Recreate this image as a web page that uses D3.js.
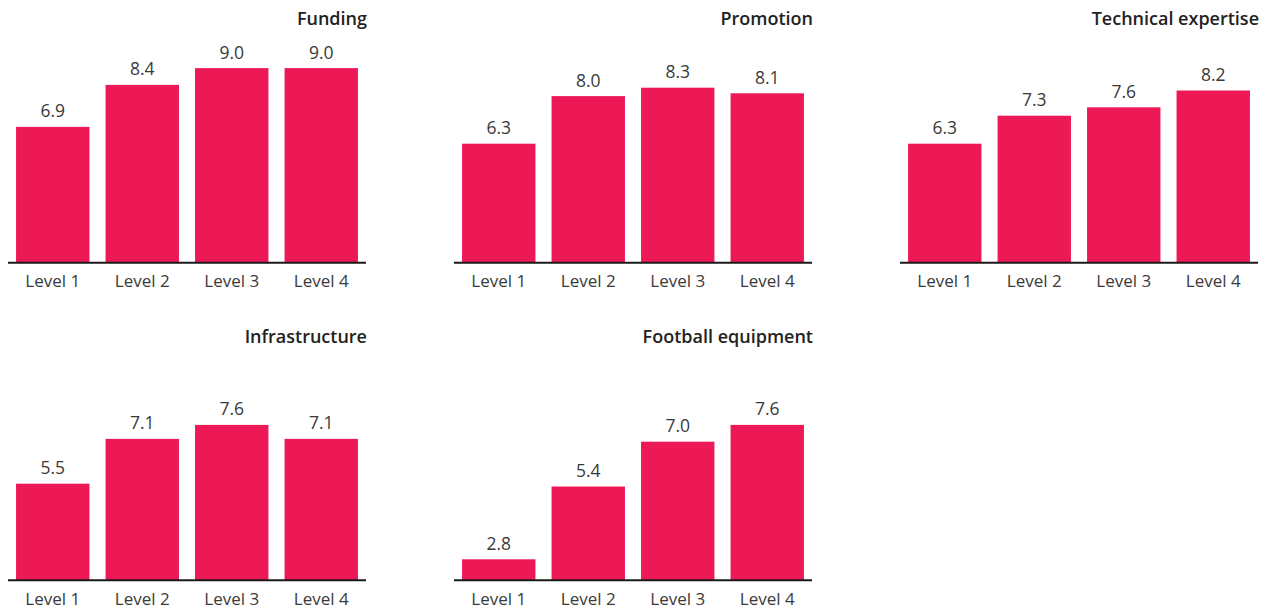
<!DOCTYPE html>
<html>
<head>
<meta charset="utf-8">
<script src="https://cdn.jsdelivr.net/npm/d3@7"></script>
<style>
  html, body { margin: 0; padding: 0; background: #fff; }
  svg { display: block; }
  text { font-family: "Open Sans", "Noto Sans", sans-serif; }
</style>
</head>
<body>
<svg id="chart" width="1274" height="609"></svg>
<script>
const levels = ["Level 1", "Level 2", "Level 3", "Level 4"];
const panelTitles = ["Funding", "Promotion", "Technical expertise", "Infrastructure", "Football equipment"];
const funding = [6.9, 8.4, 9.0, 9.0];
const promotion = [6.3, 8.0, 8.3, 8.1];
const technicalExpertise = [6.3, 7.3, 7.6, 8.2];
const infrastructure = [5.5, 7.1, 7.6, 7.1];
const footballEquipment = [2.8, 5.4, 7.0, 7.6];

const seriesList = [funding, promotion, technicalExpertise, infrastructure, footballEquipment];

const svg = d3.select("#chart");
const colOffsets = [8, 454, 900];
const rowBaselines = [262.7, 580.3];
const panelW = 358;
const barColor = "#ED1856";
const textColor = "#3a3a3a";

seriesList.forEach((vals, i) => {
  const col = i % 3, row = Math.floor(i / 3);
  const x0 = colOffsets[col];
  const base = rowBaselines[row];
  const g = svg.append("g");

  const x = d3.scaleBand().domain(levels).range([x0, x0 + panelW])
    .paddingInner(0.18).paddingOuter(0.09);
  const y = d3.scaleLinear().domain([2.05, 10]).range([base, base - 222.6]);

  g.selectAll("rect").data(vals).enter().append("rect")
    .attr("x", (d, j) => x(levels[j]))
    .attr("width", x.bandwidth())
    .attr("y", d => y(d))
    .attr("height", d => base - y(d))
    .attr("fill", barColor);

  g.selectAll("text.val").data(vals).enter().append("text")
    .attr("class", "val")
    .attr("x", (d, j) => x(levels[j]) + x.bandwidth() / 2)
    .attr("y", d => y(d) - 9.5)
    .attr("text-anchor", "middle")
    .attr("font-size", "17.5px")
    .attr("fill", textColor)
    .text(d => d3.format(".1f")(d));

  const axis = g.append("g")
    .attr("transform", `translate(0,${base})`)
    .call(d3.axisBottom(x).tickSize(0).tickPadding(0).tickSizeOuter(0));
  axis.select(".domain").attr("stroke", "#1a1a1a").attr("stroke-width", 2)
    .attr("d", `M${x0},0H${x0 + panelW}`);
  axis.selectAll(".tick text")
    .attr("dy", null)
    .attr("y", 24.8)
    .attr("font-size", "17px")
    .attr("font-family", "'Open Sans', 'Noto Sans', sans-serif")
    .attr("fill", textColor);

  g.append("text")
    .attr("x", x0 + panelW + 1)
    .attr("y", base - 237.7)
    .attr("text-anchor", "end")
    .attr("font-size", "18px")
    .attr("font-weight", "600")
    .attr("fill", "#222222")
    .text(panelTitles[i]);
});
</script>
</body>
</html>
